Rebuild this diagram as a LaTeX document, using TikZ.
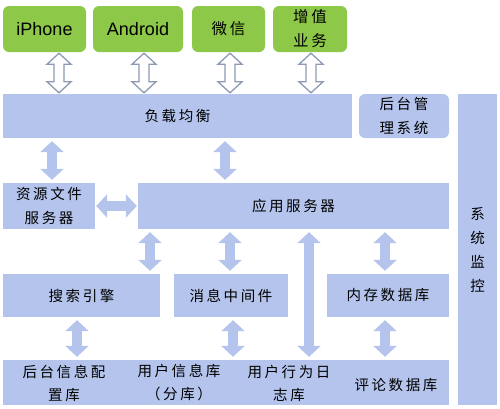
\documentclass[tikz,border=0pt]{standalone}
\usepackage{fontspec}
\setmainfont{Liberation Sans}
\newfontfamily\cjk{Noto Sans CJK SC}[LetterSpace=18]
\usetikzlibrary{arrows.meta,calc}
\definecolor{boxgreen}{RGB}{141,200,72}
\definecolor{boxblue}{RGB}{180,196,236}
\definecolor{hollowline}{RGB}{140,154,180}
\tikzset{
  greenbox/.style={fill=boxgreen, draw=none, rounded corners=6pt, inner sep=0pt, align=center, font=\fontsize{18}{20}\selectfont},
  bluebox/.style={fill=boxblue, draw=none, inner sep=0pt, align=center, font=\cjk\fontsize{14.5}{24}\selectfont},
  txt/.style={inner sep=0pt, align=center, font=\cjk\fontsize{14.5}{23}\selectfont},
  fat/.style={draw=boxblue, line width=10pt, {Triangle[width=23pt,length=11pt]}-{Triangle[width=23pt,length=11pt]}, shorten <=3pt, shorten >=3pt},
  hollow/.style={draw=hollowline, fill=white, line width=1.3pt, line join=miter},
}
\newcommand\hollowarrow[2]{%
  \path #1 coordinate (ha1) #2 coordinate (ha2);
  \draw[hollow] let \p1=(ha1), \p2=(ha2) in
    (\x1,\y1-1pt) -- (\x1+12pt,\y1-12pt) -- (\x1+5pt,\y1-12pt) -- (\x1+5pt,\y2+12pt)
    -- (\x1+12pt,\y2+12pt) -- (\x1,\y2+1pt) -- (\x1-12pt,\y2+12pt) -- (\x1-5pt,\y2+12pt)
    -- (\x1-5pt,\y1-12pt) -- (\x1-12pt,\y1-12pt) -- cycle;
}
\begin{document}
\begin{tikzpicture}[x=1pt,y=-1pt]
\useasboundingbox (0,0) rectangle (500,408);
% top row
\node[greenbox, minimum width=83pt, minimum height=46pt] (iphone) at (44.5,29) {iPhone};
\node[greenbox, minimum width=90pt, minimum height=46pt] (android) at (138,29) {Android};
\node[greenbox, minimum width=73pt, minimum height=46pt, font=\cjk\fontsize{15.5}{24}\selectfont] (weixin) at (228.5,29) {微信};
\node[greenbox, minimum width=74pt, minimum height=46pt, font=\cjk\fontsize{15.5}{24}\selectfont] (zengzhi) at (310,29) {增值\\业务};
% load balance row
\node[bluebox, minimum width=349pt, minimum height=44pt] (lb) at (177.5,116) {负载均衡};
\node[bluebox, rounded corners=6pt, minimum width=90pt, minimum height=44pt] (admin) at (404,116) {后台管\\理系统};
\node[bluebox, minimum width=39pt, minimum height=311pt] (monitor) at (477.5,249.5) {系\\统\\监\\控};
% app row
\node[bluebox, minimum width=92pt, minimum height=46pt] (res) at (49,206) {资源文件\\服务器};
\node[bluebox, minimum width=311pt, minimum height=46pt] (app) at (293.5,206) {应用服务器};
% middle row
\node[bluebox, minimum width=157pt, minimum height=43pt] (search) at (81.5,295.5) {搜索引擎};
\node[bluebox, minimum width=114pt, minimum height=43pt] (msg) at (231,295.5) {消息中间件};
\node[bluebox, minimum width=122pt, minimum height=43pt] (mem) at (388,295.5) {内存数据库};
% bottom bar
\node[bluebox, minimum width=446pt, minimum height=45pt] (bottom) at (226,382.5) {};
\node[txt] (db1) at (64,383) {后台信息配\\置库};
\node[txt] (db2) at (179,383) {用户信息库\\（分库）};
\node[txt] (db3) at (289,383) {用户行为日\\志库};
\node[txt] (db4) at (396,385) {评论数据库};
% x positions
\coordinate (x52) at (52,0);
\coordinate (x225) at (225,0);
\coordinate (x150) at (150,0);
\coordinate (x230) at (230,0);
\coordinate (x309) at (309,0);
\coordinate (x385) at (385,0);
\coordinate (x77) at (77,0);
\coordinate (x233) at (233,0);
\coordinate (x59) at (59,0);
\coordinate (x144) at (144,0);
\coordinate (x311) at (311,0);
% hollow arrows
\hollowarrow{(x59 |- iphone.south)}{(x59 |- lb.north)}
\hollowarrow{(x144 |- android.south)}{(x144 |- lb.north)}
\hollowarrow{(x230 |- weixin.south)}{(x230 |- lb.north)}
\hollowarrow{(x311 |- zengzhi.south)}{(x311 |- lb.north)}
% filled arrows
\draw[fat] (x52 |- lb.south) -- (x52 |- res.north);
\draw[fat] (x225 |- lb.south) -- (x225 |- app.north);
\draw[fat, shorten <=1pt, shorten >=1pt] (res.east) -- (app.west);
\draw[fat] (x150 |- app.south) -- (x150 |- search.north);
\draw[fat] (x230 |- app.south) -- (x230 |- msg.north);
\draw[fat] (x309 |- app.south) -- (x309 |- bottom.north);
\draw[fat] (x385 |- app.south) -- (x385 |- mem.north);
\draw[fat] (x77 |- search.south) -- (x77 |- bottom.north);
\draw[fat] (x233 |- msg.south) -- (x233 |- bottom.north);
\draw[fat] (x385 |- mem.south) -- (x385 |- bottom.north);
\end{tikzpicture}
\end{document}
